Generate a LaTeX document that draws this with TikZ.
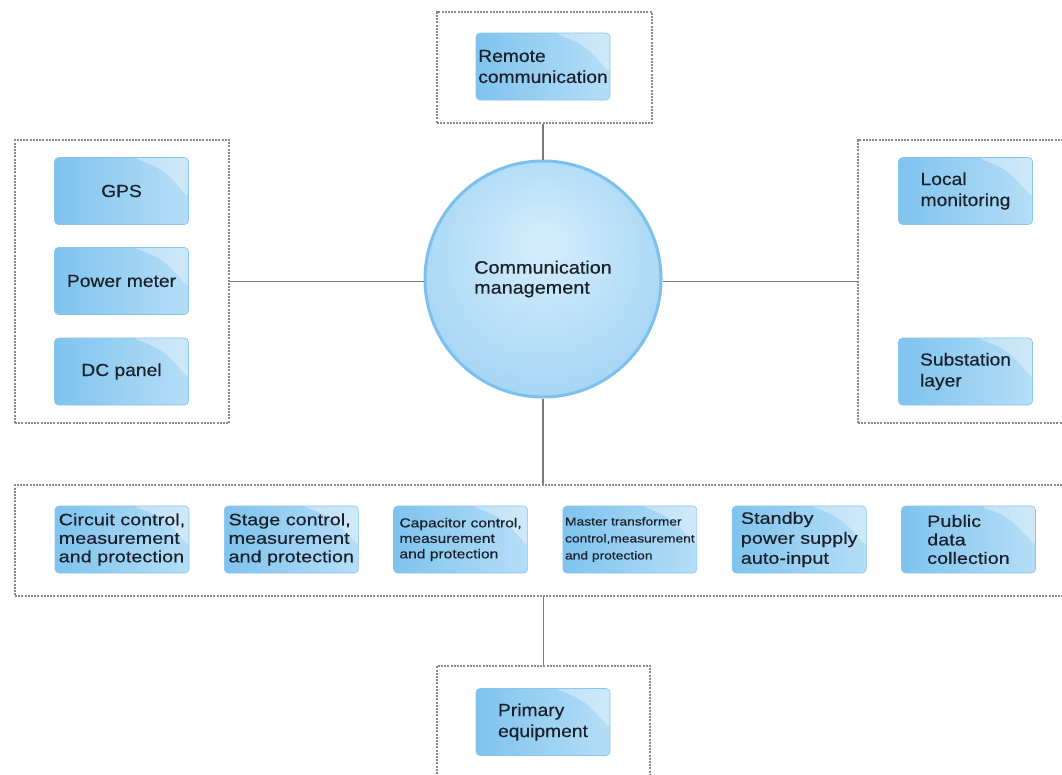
\documentclass[tikz,border=0pt]{standalone}
\usepackage{fontspec}
\setmainfont{Liberation Sans}
\newfontfamily\lblfont[FakeStretch=1.1,FakeBold=0.4]{Liberation Sans}
\newfontfamily\rowfont[FakeStretch=1.2,FakeBold=0.4]{Liberation Sans}
\usetikzlibrary{positioning}

\definecolor{boxdark}{HTML}{7FC3EE}
\definecolor{boxlight}{HTML}{B5DEF7}
\definecolor{boxedge}{HTML}{86C5EE}
\definecolor{circlight}{HTML}{D6EEFC}
\definecolor{circmid}{HTML}{A3D5F4}
\definecolor{circdark}{HTML}{82C4EF}
\definecolor{circrim}{HTML}{7CC0EC}
\definecolor{framegray}{HTML}{8A8A8A}
\definecolor{linkgray}{HTML}{7A7A7A}
\definecolor{txt}{HTML}{1A2029}

\pgfdeclareradialshading{cmball}{\pgfpoint{0bp}{8bp}}{color(0bp)=(circlight); color(30bp)=(circmid); color(50bp)=(circdark)}

\begin{document}
\begin{tikzpicture}[x=1pt,y=-1pt,node distance=34.7pt,
    unit/.style={rectangle,rounded corners=4pt,minimum width=134pt,minimum height=67pt,
      inner sep=2pt,align=left,left color=boxdark,right color=boxlight,draw=boxedge,
      line width=.6pt,text=txt,font=\lblfont\fontsize{17.5}{21}\selectfont,
      path picture={\fill[white,fill opacity=.35]
        ([xshift=-55pt]path picture bounding box.north east)
        -- (path picture bounding box.north east)
        -- ([yshift=-40pt]path picture bounding box.north east)
        .. controls ([xshift=-25pt,yshift=-12pt]path picture bounding box.north east)
        .. ([xshift=-55pt]path picture bounding box.north east) -- cycle;}},
    rowunit/.style={unit,font=\rowfont\fontsize{16.5}{18.5}\selectfont},
    group/.style={draw=framegray,line width=1.3pt,dash pattern=on 2pt off 1.2pt,
      rectangle,inner sep=0pt},
    hub/.style={circle,minimum size=236pt,shade,shading=cmball,draw=circrim,
      line width=3pt,align=left,text=txt,font=\lblfont\fontsize{18}{20}\selectfont},
    link/.style={draw=linkgray,line width=1.8pt}]

\useasboundingbox (0,0) rectangle (1062,774);
\clip (0,0) rectangle (1062,774);
\fill[white] (0,0) rectangle (1062,774);

% dashed groups
\node[group,minimum width=215pt,minimum height=111pt] (ftop) at (544.5,67.5) {};
\node[group,minimum width=214pt,minimum height=283pt] (fleft) at (122,281.5) {};
\node[group,minimum width=217pt,minimum height=283pt] (fright) at (966.5,281.5) {};
\node[group,minimum width=1060pt,minimum height=111pt] (fbot) at (545,540.5) {};
\node[group,minimum width=213pt,minimum height=124pt] (fprim) at (543.5,728) {};

% centre
\node[hub] (cm) at (543,279) {Communication\\management};

% connectors
\draw[link] (cm.north |- ftop.south) -- (cm.north);
\draw[link] (fleft.east) -- (fleft.east -| cm.west);
\draw[link] (fright.west -| cm.east) -- (fright.west);
\draw[link] (cm.south) -- (cm.south |- fbot.north);
\draw[link] (fprim.north |- fbot.south) -- (fprim.north);

% top and sides
\node[unit] (remote) at (543,66.5) {Remote\\communication};
\node[unit,align=center] (gps) at (121.5,191) {GPS};
\node[unit,align=center] (power) at (121.5,281) {Power meter};
\node[unit,align=center] (dc) at (121.5,371.5) {DC panel};
\node[unit] (local) at (965.5,191) {Local\\monitoring};
\node[unit] (subst) at (965.5,371.5) {Substation\\layer};

% bay level
\node[rowunit] (circuit) at (122,539.5) {Circuit control,\\measurement\\and protection};
\node[rowunit] (stage) [right=of circuit] {Stage control,\\measurement\\and protection};
\node[rowunit,font=\rowfont\fontsize{13}{15.5}\selectfont] (capacitor) [right=of stage]
  {Capacitor control,\\measurement\\and protection};
\node[rowunit,font=\rowfont\fontsize{11.5}{17}\selectfont] (master) [right=of capacitor]
  {Master transformer\\control,measurement\\and protection};
\node[rowunit,font=\rowfont\fontsize{16.5}{20}\selectfont] (standby) [right=of master]
  {Standby\\power supply\\auto-input};
\node[rowunit] (public) [right=of standby] {Public\\data\\collection};

% bottom
\node[unit] (primary) at (543,722) {Primary\\equipment};

\end{tikzpicture}
\end{document}
